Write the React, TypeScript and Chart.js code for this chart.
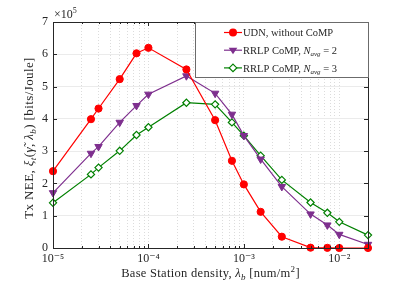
import React, { useEffect, useRef } from "react";
import { Chart, registerables } from "chart.js";

Chart.register(...registerables);

// ---- data (values in units of 10^5 bits/Joule) ----
const densities = [1e-5, 2.5e-5, 3e-5, 5e-5, 7.5e-5, 1e-4, 2.5e-4, 5e-4, 7.5e-4, 1e-3, 1.5e-3, 2.5e-3, 5e-3, 7.5e-3, 1e-2, 2e-2];
const udnValues = [2.38, 3.99, 4.32, 5.23, 6.03, 6.2, 5.53, 3.96, 2.7, 1.97, 1.12, 0.35, 0.01, 0.005, 0.0, 0.0];
const rrlp2Values = [1.71, 2.93, 3.14, 3.89, 4.41, 4.76, 5.33, 4.79, 4.14, 3.48, 2.75, 1.9, 1.05, 0.71, 0.42, 0.11];
const rrlp3Values = [1.4, 2.28, 2.49, 3.01, 3.5, 3.74, 4.5, 4.45, 3.89, 3.48, 2.86, 2.11, 1.41, 1.09, 0.81, 0.4];

const xMajorTicks = [1e-5, 1e-4, 1e-3, 1e-2];
const xTickLabels = ["10⁻⁵", "10⁻⁴", "10⁻³", "10⁻²"];
const xMinorMultipliers = [2, 3, 4, 5, 6, 7, 8, 9];
const yTicks = [0, 1, 2, 3, 4, 5, 6, 7];

const seriesNames = ["UDN, without CoMP", "RRLP CoMP, ", "RRLP CoMP, "];
const seriesSuffix = ["", " = 2", " = 3"];
const seriesColors = ["#ff0000", "#7E2F8E", "#008000"];

const FAM = '"Liberation Serif", "DejaVu Serif", serif';
const TXT = "#262626";

type Seg = { t: string; it?: boolean; sub?: boolean; sup?: boolean };

function drawRich(ctx: CanvasRenderingContext2D, segs: Seg[], x: number, y: number, size: number, align: "left" | "center", spacing = 0) {
  const fontOf = (s: Seg) => `${s.it ? "italic " : ""}${s.sub || s.sup ? Math.round(size * 0.7) : size}px ${FAM}`;
  (ctx as any).letterSpacing = spacing + "px";
  let w = 0;
  for (const s of segs) {
    ctx.font = fontOf(s);
    w += ctx.measureText(s.t).width;
  }
  let cx = align === "center" ? x - w / 2 : x;
  ctx.textAlign = "left";
  ctx.textBaseline = "alphabetic";
  ctx.fillStyle = TXT;
  for (const s of segs) {
    ctx.font = fontOf(s);
    const dy = s.sub ? size * 0.25 : s.sup ? -size * 0.42 : 0;
    ctx.fillText(s.t, cx, y + dy);
    cx += ctx.measureText(s.t).width;
  }
  (ctx as any).letterSpacing = "0px";
}

function drawMarker(ctx: CanvasRenderingContext2D, kind: number, x: number, y: number, color: string) {
  ctx.save();
  ctx.strokeStyle = color;
  ctx.fillStyle = color;
  ctx.lineWidth = 1;
  ctx.beginPath();
  if (kind === 0) {
    ctx.arc(x, y, 4, 0, Math.PI * 2);
    ctx.fill();
  } else if (kind === 1) {
    const r = 4.3;
    ctx.moveTo(x - r, y - r * 0.55);
    ctx.lineTo(x + r, y - r * 0.55);
    ctx.lineTo(x, y + r * 0.95);
    ctx.closePath();
    ctx.fill();
  } else {
    const r = 3.8;
    ctx.moveTo(x, y - r);
    ctx.lineTo(x + r, y);
    ctx.lineTo(x, y + r);
    ctx.lineTo(x - r, y);
    ctx.closePath();
    ctx.fillStyle = "#ffffff";
    ctx.fill();
    ctx.lineWidth = 1.2;
    ctx.stroke();
  }
  ctx.restore();
}

const decorPlugin = {
  id: "decor",
  afterDatasetsDraw(chart: any) {
    const ctx: CanvasRenderingContext2D = chart.ctx;
    const a = chart.chartArea;
    ctx.save();
    // frame
    ctx.strokeStyle = TXT;
    ctx.lineWidth = 1;
    ctx.strokeRect(Math.round(a.left) + 0.5, Math.round(a.top) + 0.5, Math.round(a.right - a.left), Math.round(a.bottom - a.top));

    // inward ticks
    const xs = chart.scales.x;
    ctx.beginPath();
    for (const m of xMajorTicks) {
      for (const k of [1, ...xMinorMultipliers]) {
        const v = m * k;
        if (v > xs.max * 1.0001) continue;
        const px = Math.round(xs.getPixelForValue(v)) + 0.5;
        const len = k === 1 ? 4 : 2;
        ctx.moveTo(px, a.bottom);
        ctx.lineTo(px, a.bottom - len);
        ctx.moveTo(px, a.top);
        ctx.lineTo(px, a.top + len);
      }
    }
    const ys = chart.scales.y;
    for (const v of yTicks) {
      const py = Math.round(ys.getPixelForValue(v)) + 0.5;
      ctx.moveTo(a.left, py);
      ctx.lineTo(a.left + 4, py);
      ctx.moveTo(a.right, py);
      ctx.lineTo(a.right - 4, py);
    }
    ctx.stroke();

    // exponent
    drawRich(ctx, [{ t: "×10" }, { t: "5", sup: true }], a.left + 1, a.top - 4, 12, "left", 0);

    // y title
    ctx.save();
    ctx.translate(33, (a.top + a.bottom) / 2 + 3);
    ctx.rotate(-Math.PI / 2);
    drawRich(
      ctx,
      [
        { t: "Tx NEE, " },
        { t: "ξ", it: true },
        { t: "t", it: true, sub: true },
        { t: "(" },
        { t: "γ̃", it: true },
        { t: ", " },
        { t: "λ", it: true },
        { t: "b", it: true, sub: true },
        { t: ") [bits/Joule]" },
      ],
      0,
      0,
      13,
      "center",
      0.4
    );
    ctx.restore();

    // x title
    drawRich(
      ctx,
      [
        { t: "Base Station density, " },
        { t: "λ", it: true },
        { t: "b", it: true, sub: true },
        { t: " [num/m" },
        { t: "2", sup: true },
        { t: "]" },
      ],
      (a.left + a.right) / 2,
      277,
      12.5,
      "center",
      0.3
    );

    // legend
    const lw = 173;
    const lh = 55;
    const lx = a.right - lw;
    const ly = a.top;
    ctx.fillStyle = "#ffffff";
    ctx.fillRect(lx, ly, lw, lh);
    ctx.strokeStyle = "#6b6b6b";
    ctx.lineWidth = 1;
    ctx.strokeRect(Math.round(lx) + 0.5, Math.round(ly) + 0.5, lw, lh);
    for (let i = 0; i < 3; i++) {
      const cy = ly + 10.5 + i * 17.7;
      ctx.strokeStyle = seriesColors[i];
      ctx.lineWidth = 1.2;
      ctx.beginPath();
      ctx.moveTo(lx + 29, cy);
      ctx.lineTo(lx + 47, cy);
      ctx.stroke();
      drawMarker(ctx, i, lx + 38, cy, seriesColors[i]);
      const segs: Seg[] =
        i === 0
          ? [{ t: seriesNames[0] }]
          : [{ t: seriesNames[i] }, { t: "N", it: true }, { t: "avg", it: true, sub: true }, { t: seriesSuffix[i] }];
      drawRich(ctx, segs, lx + 48, cy + 3.6, 10.5, "left", 0);
    }
    ctx.restore();
  },
};

export default function App() {
  const ref = useRef<HTMLCanvasElement | null>(null);

  useEffect(() => {
    document.body.style.margin = "0";
    const canvas = ref.current;
    if (!canvas) return;
    const mk = (i: number, data: number[]) => ({
      label: seriesNames[i] + seriesSuffix[i],
      data: densities.map((d, j) => ({ x: d, y: data[j] })),
      borderColor: seriesColors[i],
      backgroundColor: i === 2 ? "#ffffff" : seriesColors[i],
      pointBorderColor: seriesColors[i],
      pointBackgroundColor: i === 2 ? "#ffffff" : seriesColors[i],
      borderWidth: 1.2,
      pointBorderWidth: i === 2 ? 1.2 : 1,
      pointStyle: i === 0 ? "circle" : i === 1 ? "triangle" : "rectRot",
      pointRotation: i === 1 ? 180 : 0,
      pointRadius: i === 0 ? 3.6 : i === 1 ? 4.3 : 3.6,
      tension: 0,
      clip: false as any,
    });
    const chart = new Chart(canvas, {
      type: "line",
      data: {
        datasets: [mk(0, udnValues), mk(1, rrlp2Values), mk(2, rrlp3Values)] as any,
      },
      options: {
        animation: false,
        responsive: false,
        maintainAspectRatio: false,
        layout: { padding: { top: 22, right: 39, left: 0, bottom: 0 } },
        plugins: { legend: { display: false }, tooltip: { enabled: false } },
        scales: {
          x: {
            type: "logarithmic",
            min: 1e-5,
            max: 2e-2,
            afterBuildTicks: (scale: any) => {
              const t: any[] = [];
              for (const m of xMajorTicks) {
                t.push({ value: m, major: true });
                for (const k of xMinorMultipliers) {
                  const v = m * k;
                  if (v <= 2e-2 * 1.0001) t.push({ value: v });
                }
              }
              scale.ticks = t;
            },
            afterFit: (scale: any) => {
              scale.height = 35;
            },
            ticks: {
              autoSkip: false,
              maxRotation: 0,
              padding: 4,
              color: TXT,
              font: { family: FAM, size: 12 },
              callback: (v: any) => {
                const idx = xMajorTicks.findIndex((m) => Math.abs(m - Number(v)) / m < 1e-6);
                return idx >= 0 ? xTickLabels[idx] : "";
              },
            },
            grid: { color: "#dcdcdc", drawTicks: false, lineWidth: 1 },
            border: { display: false, dash: [1, 2] },
          },
          y: {
            type: "linear",
            min: 0,
            max: 7,
            afterBuildTicks: (scale: any) => {
              scale.ticks = yTicks.map((v) => ({ value: v }));
            },
            afterFit: (scale: any) => {
              scale.width = 53;
            },
            ticks: {
              padding: 5,
              color: TXT,
              font: { family: FAM, size: 12 },
              callback: (v: any) => String(v),
            },
            grid: { color: "#ebebeb", drawTicks: false, lineWidth: 1 },
            border: { display: false },
          },
        },
      },
      plugins: [decorPlugin],
    });
    return () => chart.destroy();
  }, []);

  return (
    <div style={{ width: 407, height: 283 }}>
      <canvas ref={ref} width={407} height={283} style={{ display: "block" }} />
    </div>
  );
}
